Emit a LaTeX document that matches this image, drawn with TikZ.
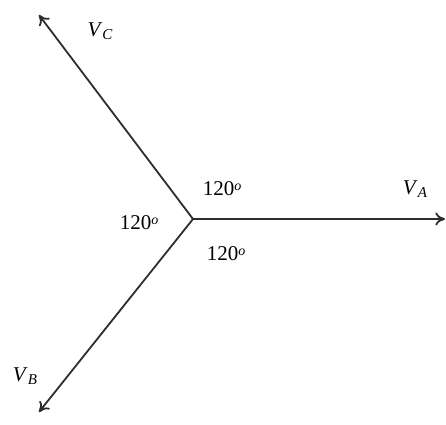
\documentclass[tikz,border=0pt]{standalone}
\usepackage{fontspec}
\setmainfont{Liberation Serif}
\usepackage{tikz}
\usetikzlibrary{arrows.meta}
\definecolor{phasorgrey}{RGB}{45,45,45}
\newcommand{\phasorname}[1]{\textit{V}\raisebox{-0.35ex}{\fontsize{15}{16}\selectfont\textit{#1}}}
\newcommand{\anglename}{120\raisebox{0.6ex}{\fontsize{14}{15}\selectfont\textit{o}}}
\tikzset{
  base/.style={font=\fontsize{21}{23}\selectfont, inner sep=1pt, text=black},
  phasor/.style={-{To[length=3.4mm,width=4.6mm]}, line width=1.8pt, draw=phasorgrey},
  anglbl/.style={base},
  vlbl/.style={base},
}
\begin{document}
\begin{tikzpicture}[x=1pt,y=-1pt]
  \useasboundingbox (0,0) rectangle (446,424);
  \coordinate (o) at (193,219);
  \coordinate (va) at (445,219);
  \coordinate (vb) at (39,412);
  \coordinate (vc) at (39,15);
  \draw[phasor] (o) -- (va);
  \draw[phasor] (o) -- (vb);
  \draw[phasor] (o) -- (vc);
  \node[vlbl] (lva) at (415,189) {\phasorname{A}};
  \node[vlbl] (lvb) at (25,376) {\phasorname{B}};
  \node[vlbl] (lvc) at (100,31) {\phasorname{C}};
  \node[anglbl] (a1) at (222,189) {\anglename};
  \node[anglbl] (a2) at (139,223) {\anglename};
  \node[anglbl] (a3) at (226,254) {\anglename};
\end{tikzpicture}
\end{document}
